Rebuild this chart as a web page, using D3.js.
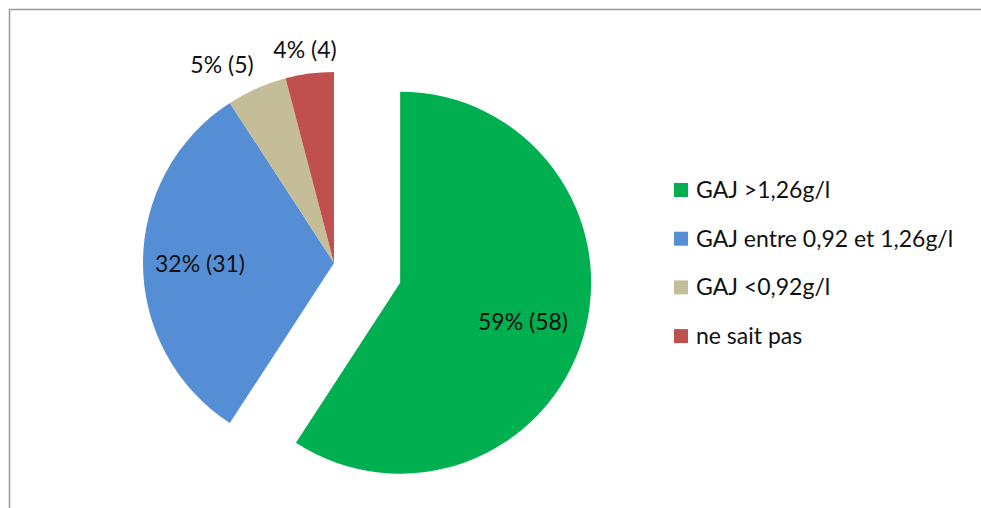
<!DOCTYPE html>
<html>
<head>
<meta charset="utf-8">
<script src="https://cdn.jsdelivr.net/npm/d3@7"></script>
<style>
  body { margin: 0; background: #fff; }
  svg text { font-family: Lato, "Open Sans", sans-serif; fill: #111; }
</style>
</head>
<body>
<div id="chart"></div>
<script>
let categories = ["GAJ >1,26g/l", "GAJ entre 0,92 et 1,26g/l", "GAJ <0,92g/l", "ne sait pas"];
let counts = [58, 31, 5, 4];
let percents = ["59%", "32%", "5%", "4%"];
let colors = ["#00b050", "#558ed5", "#c4bd97", "#c0504d"];

let svgWidth = 981;
let svgHeight = 508;

let svg = d3.select("#chart")
  .append("svg")
  .attr("width", svgWidth)
  .attr("height", svgHeight);

// chart frame
svg.append("path")
  .attr("d", "M9.5,520 L9.5,9.5 L990,9.5")
  .attr("fill", "none")
  .attr("stroke", "#9a9a9a")
  .attr("stroke-width", 1.5);

let cx = 334, cy = 263, radius = 191;
let explode = 69;

let data = categories.map((c, i) => ({ name: c, value: counts[i], pct: percents[i], color: colors[i] }));

let pie = d3.pie().sort(null).value(d => d.value);
let arcs = pie(data);

let arc = d3.arc().innerRadius(0).outerRadius(radius);

let pieGroup = svg.append("g")
  .attr("transform", `translate(${cx}, ${cy})`);

function offset(d, i) {
  if (i !== 0) return [0, 0];
  let mid = (d.startAngle + d.endAngle) / 2;
  return [Math.sin(mid) * explode, -Math.cos(mid) * explode];
}

pieGroup.selectAll("path.slice")
  .data(arcs)
  .enter()
  .append("path")
  .attr("class", "slice")
  .attr("d", arc)
  .attr("fill", d => d.data.color)
  .attr("transform", (d, i) => `translate(${offset(d, i)})`);

// label positions (relative to pie centre)
let labelPos = [[189, 67], [-134, 9], [-112, -190], [-29, -205]];

pieGroup.selectAll("text.lbl")
  .data(arcs)
  .enter()
  .append("text")
  .attr("class", "lbl")
  .attr("x", (d, i) => labelPos[i][0])
  .attr("y", (d, i) => labelPos[i][1])
  .attr("text-anchor", "middle")
  .attr("font-size", "23px")
  .text(d => `${d.data.pct} (${d.data.value})`);

// legend
let legend = svg.append("g")
  .attr("transform", "translate(674, 183)");

let rows = legend.selectAll("g.row")
  .data(data)
  .enter()
  .append("g")
  .attr("class", "row")
  .attr("transform", (d, i) => `translate(0, ${i * 48.7})`);

rows.append("rect")
  .attr("width", 14)
  .attr("height", 14)
  .attr("fill", d => d.color);

rows.append("text")
  .attr("x", 22)
  .attr("y", 15)
  .attr("font-size", "23px")
  .text(d => d.name);
</script>
</body>
</html>
